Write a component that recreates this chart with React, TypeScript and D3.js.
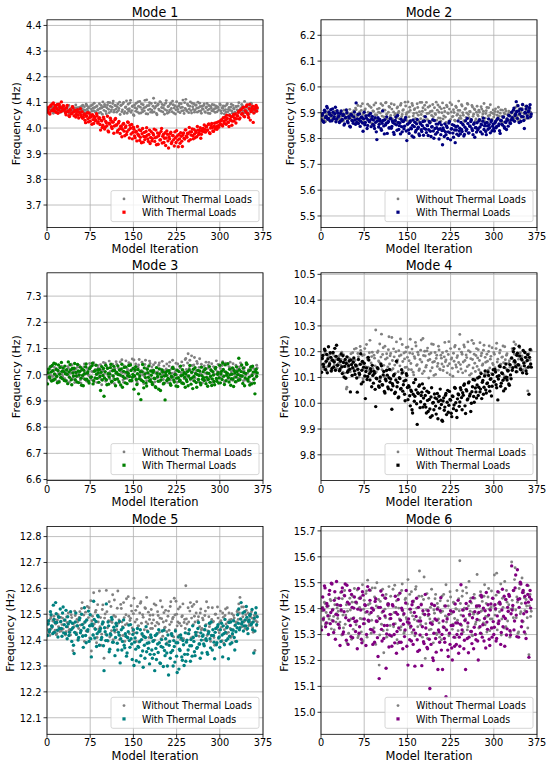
import React from "react";
import * as d3 from "d3";

// ---------- data ----------
const iterations = d3.range(1, 366);

const xTicks = [0, 75, 150, 225, 300, 375];

const mode1Without = [
  4.068,4.079,4.075,4.064,4.062,4.072,4.081,4.069,4.071,4.083,4.058,4.074,4.077,4.066,4.085,4.070,4.066,4.078,4.073,4.060,4.079,4.087,4.061,4.073,4.070,4.065,4.083,4.076,4.067,4.080,
  4.072,4.059,4.064,4.077,4.080,4.068,4.069,4.088,4.058,4.074,4.076,4.063,4.071,4.082,4.084,4.067,4.063,4.075,4.070,4.090,4.078,4.061,4.066,4.079,4.073,4.068,4.081,4.056,4.069,4.085,
  4.075,4.089,4.062,4.071,4.083,4.060,4.070,4.093,4.088,4.074,4.066,4.082,4.079,4.055,4.057,4.087,4.074,4.066,4.091,4.078,4.068,4.097,4.080,4.062,4.064,4.084,4.086,4.071,4.072,4.059,
  4.095,4.076,4.061,4.088,4.078,4.054,4.102,4.083,4.069,4.092,4.084,4.065,4.056,4.079,4.090,4.100,4.073,4.060,4.099,4.085,4.065,4.071,4.081,4.096,4.105,4.062,4.070,4.089,4.087,4.074,
  4.062,4.083,4.094,4.068,4.076,4.101,4.053,4.088,4.089,4.064,4.071,4.095,4.100,4.057,4.064,4.080,4.082,4.106,4.058,4.073,4.093,4.066,4.075,4.098,4.108,4.061,4.068,4.084,4.086,4.052,
  4.049,4.090,4.079,4.066,4.097,4.075,4.063,4.102,4.085,4.058,4.104,4.081,4.059,4.094,4.072,4.063,4.091,4.078,4.067,4.108,4.081,4.056,4.110,4.087,4.055,4.071,4.088,4.099,4.074,4.062,
  4.096,4.070,4.061,4.085,4.116,4.063,4.077,4.098,4.084,4.057,4.052,4.089,4.093,4.074,4.069,4.103,4.101,4.066,4.080,4.092,4.063,4.078,4.089,4.054,4.072,4.097,4.107,4.068,4.058,4.083,
  4.085,4.062,4.070,4.093,4.098,4.076,4.064,4.105,4.091,4.059,4.078,4.087,4.055,4.071,4.103,4.082,4.073,4.064,4.087,4.096,4.060,4.079,4.095,4.067,4.081,4.109,4.068,4.057,4.099,4.076,
  4.112,4.071,4.066,4.093,4.088,4.060,4.074,4.085,4.102,4.068,4.059,4.097,4.083,4.073,4.095,4.062,4.070,4.089,4.090,4.077,4.062,4.101,4.079,4.066,4.097,4.084,4.067,4.058,4.085,4.075,
  4.073,4.088,4.094,4.064,4.061,4.079,4.082,4.096,4.070,4.058,4.088,4.074,4.057,4.085,4.079,4.067,4.092,4.072,4.066,4.090,4.075,4.061,4.086,4.078,4.063,4.083,4.080,4.069,4.071,4.094,
  4.090,4.067,4.058,4.079,4.077,4.086,4.068,4.055,4.085,4.072,4.062,4.091,4.095,4.064,4.073,4.080,4.053,4.069,4.081,4.093,4.067,4.058,4.088,4.076,4.075,4.062,4.060,4.084,4.083,4.071,
  4.070,4.086,4.099,4.061,4.064,4.075,4.078,4.092,4.087,4.067,4.058,4.081,4.104,4.073,4.072,4.059,4.066,4.088,4.091,4.078,4.055,4.070,4.080,4.097,4.095,4.064,4.069,4.083,4.077,4.060,
  4.062,4.078,4.085,4.069,4.074,
];
const mode1With = [
  4.062,4.072,4.081,4.059,4.055,4.085,4.090,4.067,4.071,4.095,4.098,4.076,4.066,4.088,4.084,4.061,4.075,4.092,4.058,4.070,4.093,4.083,4.079,4.064,4.102,4.078,4.068,4.087,4.086,4.071,
  4.074,4.061,4.052,4.079,4.088,4.066,4.063,4.048,4.045,4.072,4.069,4.056,4.057,4.083,4.080,4.062,4.048,4.070,4.066,4.043,4.054,4.065,4.072,4.050,4.039,4.062,4.060,4.075,4.051,4.044,
  4.064,4.038,4.042,4.053,4.055,4.030,4.021,4.046,4.048,4.060,4.036,4.024,4.059,4.041,4.027,4.050,4.044,4.015,4.052,4.033,4.018,4.045,4.039,4.028,4.031,4.056,4.047,4.020,4.025,4.037,
  4.040,4.014,3.992,4.031,4.028,4.002,4.011,4.042,4.035,3.996,4.003,4.026,4.021,4.009,4.046,3.989,3.985,4.019,4.016,4.038,4.030,4.005,3.998,4.023,4.024,3.980,4.008,4.033,4.037,4.012,
  4.012,3.984,3.991,4.020,4.026,3.997,3.979,4.007,4.004,3.966,3.995,4.015,4.018,3.988,3.970,4.002,4.008,3.975,3.986,4.024,4.022,3.993,3.961,4.011,3.999,3.977,4.014,3.958,3.983,4.003,
  3.995,3.969,3.962,3.984,3.987,3.950,4.006,3.976,3.971,3.993,3.952,3.964,3.990,3.943,3.978,3.998,3.945,3.967,3.983,3.955,3.966,3.987,4.001,3.972,3.958,3.948,3.975,3.992,3.940,3.963,
  3.986,3.950,3.959,3.979,3.973,3.996,3.948,3.962,3.992,3.935,3.965,3.981,3.937,3.970,3.979,3.953,3.955,3.987,3.998,3.942,3.968,3.975,3.944,3.960,3.982,3.932,3.961,3.989,3.976,3.950,
  3.922,3.966,3.958,3.979,3.984,3.940,3.947,3.971,3.970,3.955,3.930,3.985,3.962,3.944,3.990,3.969,3.953,3.927,3.975,3.958,3.941,3.982,3.968,3.949,3.928,3.973,3.981,3.960,3.957,3.993,
  3.993,3.969,3.964,3.980,3.978,3.950,4.002,3.985,3.955,3.973,3.986,3.997,3.970,3.958,3.995,3.977,3.962,3.989,3.983,3.966,4.006,3.992,3.974,3.982,3.991,4.001,3.960,3.976,3.988,3.996,
  3.998,3.986,4.012,3.995,3.984,4.006,4.005,3.991,3.993,4.014,4.016,3.982,3.979,4.000,4.009,4.018,4.001,3.989,3.987,4.007,4.019,3.996,4.004,4.021,3.995,4.008,4.024,4.003,4.010,4.027,
  4.017,4.029,4.033,4.012,4.008,4.040,4.026,4.019,4.042,4.031,4.015,4.050,4.037,4.024,4.022,4.006,4.049,4.035,4.030,4.044,4.011,4.027,4.045,4.053,4.028,4.038,4.055,4.020,4.036,4.047,
  4.048,4.061,4.066,4.035,4.039,4.070,4.072,4.054,4.057,4.079,4.081,4.046,4.044,4.068,4.063,4.084,4.090,4.058,4.052,4.041,4.075,4.092,4.031,4.064,4.068,4.077,4.085,4.022,4.059,4.073,
  4.074,4.083,4.088,4.066,4.079,
];

const mode2Without = [
  5.882,5.895,5.891,5.877,5.873,5.887,5.900,5.866,5.886,5.893,5.878,5.904,5.894,5.872,5.869,5.883,5.889,5.898,5.897,5.879,5.875,5.890,5.884,5.906,5.902,5.868,5.871,5.885,5.888,5.896,
  5.893,5.874,5.876,5.901,5.885,5.867,5.899,5.889,5.868,5.910,5.890,5.878,5.880,5.896,5.905,5.870,5.874,5.892,5.887,5.913,5.896,5.881,5.870,5.899,5.883,5.865,5.908,5.891,5.879,5.918,
  5.912,5.874,5.886,5.928,5.868,5.897,5.903,5.880,5.925,5.909,5.877,5.935,5.894,5.866,5.862,5.911,5.915,5.887,5.889,5.873,5.933,5.902,5.871,5.926,5.898,5.883,5.920,5.858,5.882,5.907,
  5.906,5.930,5.858,5.892,5.938,5.875,5.891,5.914,5.874,5.902,5.917,5.865,5.899,5.935,5.866,5.887,5.928,5.911,5.884,5.872,5.910,5.938,5.940,5.894,5.877,5.862,5.902,5.924,5.921,5.883,
  5.889,5.935,5.914,5.876,5.870,5.903,5.931,5.890,5.896,5.864,5.880,5.918,5.922,5.898,5.905,5.877,5.861,5.929,5.936,5.885,5.893,5.909,5.912,5.870,5.875,5.941,5.926,5.893,5.900,5.868,
  5.942,5.903,5.884,5.921,5.909,5.866,5.870,5.936,5.928,5.887,5.897,5.912,5.916,5.878,5.863,5.899,5.935,5.920,5.890,5.868,5.904,5.940,5.877,5.893,5.940,5.906,5.919,5.872,5.886,5.929,
  5.912,5.882,5.940,5.897,5.873,5.921,5.898,5.862,5.926,5.905,5.865,5.889,5.907,5.932,5.884,5.870,5.919,5.896,5.893,5.941,5.871,5.910,5.930,5.880,5.902,5.922,5.879,5.867,5.915,5.900,
  5.938,5.876,5.888,5.918,5.905,5.883,5.862,5.929,5.923,5.899,5.897,5.868,5.914,5.939,5.874,5.903,5.931,5.884,5.886,5.912,5.901,5.871,5.868,5.925,5.920,5.890,5.894,5.909,5.945,5.878,
  5.909,5.888,5.878,5.931,5.926,5.900,5.890,5.869,5.866,5.913,5.917,5.882,5.899,5.936,5.933,5.893,5.881,5.905,5.904,5.874,5.871,5.928,5.922,5.886,5.894,5.915,5.912,5.868,5.876,5.902,
  5.925,5.891,5.887,5.910,5.903,5.872,5.869,5.923,5.914,5.884,5.895,5.906,5.936,5.866,5.879,5.897,5.908,5.920,5.862,5.888,5.919,5.875,5.890,5.931,5.901,5.869,5.874,5.898,5.911,5.883,
  5.893,5.905,5.915,5.868,5.872,5.890,5.904,5.921,5.886,5.874,5.898,5.911,5.866,5.887,5.910,5.863,5.881,5.899,5.895,5.914,5.907,5.872,5.876,5.893,5.889,5.906,5.902,5.868,5.870,5.885,
  5.898,5.876,5.884,5.909,5.912,5.893,5.879,5.921,5.906,5.887,5.929,5.870,5.891,5.914,5.873,5.900,5.903,5.882,5.917,5.930,5.885,5.897,5.896,5.874,5.925,5.911,5.880,5.893,5.908,5.920,
  5.893,5.879,5.915,5.902,5.889,
];
const mode2With = [
  5.872,5.890,5.897,5.866,5.863,5.910,5.905,5.881,5.886,5.924,5.918,5.875,5.878,5.902,5.894,5.868,5.912,5.889,5.869,5.915,5.902,5.877,5.884,5.896,5.921,5.865,5.876,5.908,5.899,5.883,
  5.888,5.862,5.866,5.897,5.907,5.871,5.874,5.889,5.893,5.852,5.857,5.880,5.882,5.911,5.900,5.866,5.861,5.885,5.879,5.848,5.845,5.893,5.890,5.870,5.868,5.859,5.884,5.903,5.872,5.855,
  5.938,5.862,5.876,5.893,5.858,5.874,5.895,5.847,5.867,5.882,5.884,5.860,5.828,5.877,5.902,5.853,5.862,5.888,5.879,5.839,5.851,5.872,5.890,5.865,5.870,5.897,5.846,5.876,5.886,5.855,
  5.872,5.850,5.839,5.881,5.863,5.826,5.796,5.868,5.881,5.845,5.855,5.874,5.868,5.838,5.832,5.859,5.907,5.870,5.849,5.818,5.873,5.852,5.858,5.884,5.820,5.862,5.866,5.841,5.842,5.876,
  5.878,5.840,5.847,5.868,5.862,5.824,5.816,5.857,5.870,5.883,5.853,5.832,5.889,5.862,5.835,5.850,5.860,5.818,5.875,5.846,5.826,5.867,5.866,5.838,5.848,5.873,5.882,5.829,5.792,5.855,
  5.857,5.833,5.820,5.862,5.868,5.841,5.838,5.810,5.851,5.872,5.805,5.846,5.863,5.825,5.831,5.857,5.874,5.839,5.844,5.818,5.812,5.861,5.856,5.834,5.827,5.850,5.866,5.813,5.840,5.868,
  5.885,5.836,5.823,5.852,5.850,5.812,5.834,5.866,5.861,5.828,5.808,5.845,5.846,5.873,5.829,5.801,5.870,5.839,5.817,5.856,5.842,5.824,5.856,5.835,5.798,5.862,5.838,5.815,5.853,5.831,
  5.776,5.841,5.832,5.808,5.857,5.826,5.815,5.849,5.843,5.800,5.826,5.860,5.866,5.822,5.795,5.837,5.838,5.854,5.821,5.805,5.851,5.833,5.784,5.846,5.833,5.817,5.848,5.868,5.812,5.829,
  5.840,5.818,5.862,5.835,5.827,5.856,5.852,5.810,5.816,5.844,5.869,5.830,5.836,5.878,5.858,5.821,5.822,5.849,5.847,5.866,5.873,5.838,5.831,5.815,5.855,5.860,5.805,5.842,5.843,5.825,
  5.861,5.833,5.838,5.868,5.873,5.845,5.826,5.856,5.853,5.818,5.867,5.879,5.835,5.849,5.858,5.827,5.815,5.862,5.849,5.836,5.876,5.854,5.842,5.822,5.864,5.870,5.830,5.848,5.856,5.839,
  5.829,5.860,5.866,5.842,5.847,5.875,5.878,5.850,5.857,5.830,5.820,5.869,5.870,5.855,5.852,5.883,5.884,5.846,5.840,5.864,5.862,5.835,5.876,5.871,5.848,5.890,5.888,5.861,5.858,5.873,
  5.902,5.881,5.873,5.910,5.918,5.867,5.889,5.896,5.943,5.905,5.878,5.927,5.907,5.862,5.895,5.915,5.866,5.886,5.912,5.932,5.884,5.870,5.839,5.901,5.899,5.915,5.925,5.888,5.880,5.904,
  5.908,5.919,5.931,5.885,5.895,
];

const mode3Without = [
  7.005,7.018,6.988,7.001,7.021,6.980,6.996,7.030,7.012,6.993,6.982,7.015,7.028,6.998,7.001,7.024,6.991,6.974,7.016,7.007,6.976,7.026,7.009,6.987,7.033,7.003,6.994,7.020,7.019,6.984,
  6.985,7.010,7.013,6.977,6.999,7.031,7.025,6.995,6.972,7.006,7.008,7.040,7.036,6.983,6.990,7.014,7.017,6.970,6.979,7.023,7.004,6.992,7.029,7.008,6.993,7.035,7.011,6.980,6.968,7.017,
  7.022,6.994,6.987,7.030,7.041,7.009,7.003,6.978,6.975,7.025,7.018,6.999,6.995,7.043,7.032,6.985,6.981,7.013,7.010,7.038,7.046,6.972,6.989,7.020,7.014,7.001,6.970,7.035,7.027,6.988,
  7.001,7.022,7.038,6.982,6.962,7.017,7.015,7.047,6.992,7.005,7.044,6.975,6.978,7.030,7.023,6.996,7.007,7.052,6.984,7.013,7.035,6.969,6.997,7.040,7.020,6.986,6.966,7.024,7.012,7.050,
  7.040,7.001,6.983,7.027,7.019,6.968,7.049,7.012,6.995,7.057,7.008,6.980,6.971,7.034,7.031,7.006,7.053,6.989,6.986,7.020,7.014,7.046,6.998,6.975,7.042,7.018,6.975,7.060,7.025,6.993,
  7.056,7.012,6.990,7.041,7.021,6.974,6.967,7.029,7.037,7.058,7.004,6.985,6.981,7.016,7.048,7.000,7.011,6.966,6.994,7.039,7.055,7.007,6.977,7.024,7.028,6.991,7.002,7.052,7.043,6.979,
  6.985,7.030,7.018,6.964,7.038,7.009,6.972,7.046,7.009,6.987,7.027,7.011,6.990,7.036,7.045,6.973,6.979,7.021,7.012,7.051,7.000,6.982,7.033,7.015,6.968,7.004,7.022,7.041,6.996,6.970,
  7.015,7.033,7.048,6.979,6.987,7.022,7.006,7.055,7.030,6.992,6.975,7.009,7.019,7.044,6.999,6.971,7.041,7.014,6.982,7.032,7.026,6.997,7.008,7.049,6.971,7.018,7.035,6.985,7.011,7.058,
  7.062,7.020,6.995,7.045,7.080,6.990,7.024,7.055,6.980,7.012,7.072,7.035,7.010,6.977,7.037,7.066,6.988,7.008,7.016,7.051,7.043,6.983,6.974,7.028,7.061,7.004,7.003,7.040,7.029,6.969,
  6.992,7.017,7.034,6.980,7.007,7.048,6.978,7.003,7.025,7.036,7.047,6.989,6.986,7.021,7.014,7.042,6.970,7.009,7.031,6.975,7.002,7.027,7.019,7.053,6.983,7.012,7.039,6.996,7.009,7.030,
  7.024,6.999,6.989,7.035,7.050,7.016,7.012,6.972,6.976,7.044,7.037,7.006,7.004,6.985,6.995,7.031,7.028,7.048,6.981,7.010,7.016,6.979,7.042,7.023,6.990,7.001,7.007,7.036,6.972,7.013,
  7.021,6.987,7.003,7.030,6.986,7.045,7.034,6.992,7.011,7.024,6.977,7.015,7.027,6.980,6.998,7.038,7.040,7.006,6.983,7.019,7.015,6.971,6.993,7.032,7.030,7.002,6.969,7.025,7.010,6.985,
  7.019,7.004,6.990,7.036,7.026,
];
const mode3With = [
  6.965,7.008,7.022,6.992,6.988,7.031,7.010,6.976,7.035,7.015,6.979,7.044,7.003,6.984,7.041,7.020,6.994,6.969,7.016,7.037,6.972,7.002,7.028,6.990,7.047,7.013,6.985,7.026,7.012,6.978,
  7.033,7.004,6.976,7.019,7.002,6.966,7.049,7.011,6.990,7.038,7.018,6.981,6.962,7.024,7.007,6.995,7.025,7.043,6.981,7.009,6.995,6.972,7.039,7.014,6.970,6.999,7.013,7.029,6.987,6.960,
  7.021,6.998,6.958,7.017,7.004,6.983,7.030,7.041,6.983,7.006,7.011,6.975,6.968,7.023,7.027,6.990,6.992,7.034,7.044,6.965,6.977,7.013,7.015,6.987,7.036,7.002,6.986,7.019,7.008,6.971,
  7.019,6.993,6.940,7.009,7.031,6.980,6.997,7.024,6.918,6.987,7.012,7.036,6.981,6.962,7.025,7.004,6.964,6.991,7.003,7.027,7.040,6.973,6.975,7.015,6.995,7.032,7.017,6.982,6.958,7.006,
  7.009,6.984,7.034,7.001,6.973,7.018,6.999,6.961,7.022,7.040,6.952,6.993,7.013,7.028,6.987,6.969,7.029,7.010,6.966,6.997,7.006,7.035,6.993,6.978,7.037,7.016,6.978,6.990,7.001,7.024,
  6.945,6.996,7.018,7.031,6.982,6.963,7.004,7.020,6.927,6.985,6.995,7.012,6.905,6.979,7.011,7.039,6.974,6.950,7.026,7.003,6.989,6.968,6.957,7.021,7.008,6.990,7.034,6.976,6.980,7.014,
  6.998,6.971,6.963,7.009,7.016,6.987,6.985,6.954,6.951,7.027,7.005,6.993,6.975,6.945,7.022,7.003,6.940,6.980,6.992,7.018,7.010,6.965,6.968,6.995,6.904,7.009,6.997,6.978,7.014,6.986,
  6.983,7.015,7.006,6.966,6.960,6.994,6.991,7.028,7.024,6.980,6.972,7.001,7.001,6.957,6.987,7.017,6.955,6.989,7.012,6.975,6.979,7.033,6.996,6.968,7.019,6.999,6.966,7.008,6.990,6.952,
  7.003,6.981,6.974,7.012,6.958,6.995,7.018,7.035,6.985,6.964,7.009,6.988,6.947,7.021,6.993,6.976,7.027,7.004,6.970,6.952,7.001,7.016,6.982,6.997,7.014,6.969,6.962,7.029,6.996,6.983,
  7.011,6.989,6.978,7.020,7.023,6.966,6.990,7.007,6.956,6.982,7.005,7.031,6.971,6.994,7.017,6.959,6.984,7.012,6.999,6.974,6.962,7.024,7.028,6.986,6.975,7.002,7.008,6.968,6.988,7.036,
  6.969,7.004,7.013,6.982,7.045,7.020,6.994,6.963,7.038,7.011,6.977,6.998,7.006,7.042,6.989,6.972,7.021,7.000,6.960,6.985,7.002,7.026,6.984,6.955,7.016,7.007,6.973,6.991,7.030,7.012,
  7.000,6.979,7.063,7.019,6.981,6.996,7.012,7.037,6.995,6.967,7.026,7.008,6.958,6.988,7.005,7.045,7.040,6.983,6.976,7.014,6.991,6.961,7.018,7.029,6.965,6.997,7.033,7.010,6.983,6.968,
  6.927,7.012,7.021,6.994,7.007,
];

const mode4Without = [
  10.150,10.171,10.178,10.139,10.132,10.188,10.195,10.157,10.163,10.124,10.141,10.176,10.184,10.149,10.158,10.192,10.126,10.166,10.172,10.138,10.190,10.160,10.147,10.182,10.168,10.129,10.135,10.174,10.181,10.152,
  10.155,10.184,10.128,10.149,10.170,10.198,10.143,10.120,10.188,10.163,10.117,10.145,10.161,10.055,10.062,10.179,10.139,10.158,10.175,10.131,10.122,10.192,10.150,10.107,10.196,10.168,10.133,10.210,10.166,10.142,
  10.213,10.128,10.145,10.193,10.180,10.102,10.118,10.220,10.205,10.151,10.162,10.185,10.095,10.134,10.188,10.212,10.142,10.105,10.228,10.176,10.170,10.140,10.127,10.196,10.244,10.118,10.156,10.181,10.198,10.135,
  10.110,10.186,10.175,10.145,10.284,10.121,10.138,10.197,10.203,10.164,10.160,10.230,10.095,10.179,10.268,10.130,10.189,10.215,10.147,10.102,10.221,10.171,10.125,10.192,10.176,10.141,10.208,10.258,10.152,10.184,
  10.193,10.128,10.255,10.166,10.134,10.211,10.180,10.148,10.116,10.200,10.238,10.157,10.168,10.122,10.204,10.183,10.145,10.249,10.187,10.113,10.228,10.162,10.122,10.195,10.172,10.139,10.199,10.216,10.140,10.178,
  10.218,10.131,10.165,10.195,10.248,10.154,10.130,10.210,10.192,10.120,10.110,10.181,10.174,10.236,10.222,10.146,10.150,10.198,10.188,10.127,10.133,10.170,10.206,10.245,10.160,10.115,10.251,10.185,10.124,10.202,
  10.183,10.140,10.147,10.203,10.214,10.166,10.098,10.190,10.170,10.125,10.195,10.230,10.138,10.159,10.228,10.108,10.162,10.197,10.112,10.174,10.186,10.143,10.154,10.221,10.207,10.133,10.130,10.186,10.175,10.152,
  10.196,10.127,10.142,10.180,10.236,10.161,10.168,10.202,10.118,10.145,10.189,10.239,10.153,10.111,10.212,10.171,10.176,10.136,10.105,10.194,10.163,10.218,10.224,10.149,10.140,10.177,10.184,10.122,10.158,10.210,
  10.267,10.150,10.133,10.198,10.190,10.118,10.160,10.226,10.218,10.166,10.125,10.187,10.177,10.142,10.238,10.204,10.148,10.109,10.199,10.173,10.115,10.244,10.170,10.137,10.232,10.190,10.155,10.123,10.185,10.212,
  10.143,10.176,10.208,10.130,10.166,10.235,10.120,10.184,10.194,10.147,10.152,10.206,10.225,10.113,10.178,10.159,10.110,10.190,10.163,10.128,10.201,10.222,10.137,10.171,10.182,10.116,10.215,10.154,10.149,10.196,
  10.190,10.138,10.125,10.212,10.233,10.160,10.171,10.128,10.144,10.195,10.206,10.151,10.118,10.178,10.180,10.222,10.157,10.108,10.219,10.169,10.135,10.186,10.192,10.123,10.100,10.155,10.165,10.140,10.147,10.175,
  10.178,10.212,10.205,10.160,10.238,10.190,10.150,10.228,10.190,10.138,10.122,10.183,10.171,10.149,10.215,10.196,10.142,10.174,10.183,10.127,10.130,10.202,10.199,10.157,10.160,10.136,10.176,10.190,10.048,10.168,
  10.192,10.145,10.168,10.210,10.205,
];
const mode4With = [
  10.120,10.174,10.185,10.151,10.142,10.210,10.205,10.131,10.163,10.189,10.118,10.172,10.219,10.145,10.152,10.196,10.178,10.125,10.135,10.167,10.197,10.140,10.160,10.213,10.128,10.182,10.225,10.148,10.147,10.170,
  10.172,10.126,10.133,10.163,10.191,10.141,10.115,10.184,10.158,10.102,10.143,10.170,10.097,10.154,10.180,10.120,10.126,10.146,10.165,10.132,10.044,10.168,10.150,10.108,10.138,10.159,10.176,10.125,10.112,10.149,
  10.145,10.098,10.043,10.132,10.170,10.117,10.112,10.151,10.192,10.075,10.128,10.162,10.083,10.140,10.155,10.106,10.018,10.123,10.137,10.092,10.104,10.178,10.168,10.115,10.090,10.134,10.124,10.064,10.147,10.108,
  10.078,10.124,10.116,10.054,9.987,10.097,10.095,10.138,10.134,10.067,10.062,10.085,10.102,10.152,10.145,10.072,10.071,10.110,10.123,10.046,10.040,10.093,10.087,10.128,10.109,10.063,10.056,10.099,10.131,10.081,
  10.094,10.052,9.977,10.076,10.068,10.107,10.112,10.038,10.043,10.090,10.163,10.064,10.081,10.021,10.024,10.099,10.096,10.055,10.057,10.130,10.118,10.047,10.072,10.086,10.035,10.010,10.089,10.115,10.108,10.061,
  10.014,10.068,10.063,10.029,9.990,10.051,10.046,9.975,9.962,10.035,10.080,10.008,10.027,10.092,10.052,9.998,9.918,10.041,10.038,10.066,10.071,9.983,10.006,10.030,10.043,10.075,9.985,10.020,10.058,9.995,
  10.030,9.985,9.962,10.047,10.011,9.968,10.042,10.015,9.978,9.946,10.024,10.060,9.952,10.001,10.003,9.975,10.036,10.021,9.989,9.958,10.017,10.038,9.940,10.007,10.027,9.981,10.055,10.012,9.995,9.934,
  9.930,10.009,10.021,9.973,9.985,10.031,10.038,9.956,10.004,10.050,9.965,9.992,10.046,10.015,10.012,9.961,9.948,10.028,10.026,9.979,9.993,10.061,10.058,10.002,9.972,9.945,10.017,10.036,10.033,9.988,
  10.005,10.060,10.052,10.022,9.975,10.041,10.031,10.070,10.075,9.990,9.960,10.053,10.048,10.013,10.017,10.079,10.083,10.028,10.036,9.968,10.000,10.045,10.064,10.092,10.026,10.004,10.090,10.059,10.044,10.020,
  10.071,10.098,10.030,10.062,10.102,10.044,10.055,10.115,10.018,10.081,10.088,10.035,10.062,10.106,10.125,10.052,10.040,10.076,10.079,10.121,10.108,10.065,10.047,10.093,10.095,10.028,10.066,10.112,10.130,10.083,
  10.085,10.131,10.121,10.072,10.060,10.104,10.013,10.094,10.107,10.145,10.142,10.066,10.078,10.118,10.115,10.089,10.048,10.139,10.098,10.056,10.152,10.101,10.090,10.128,10.126,10.075,10.070,10.150,10.110,10.095,
  10.175,10.128,10.138,10.200,10.212,10.165,10.160,10.142,10.122,10.186,10.194,10.150,10.148,10.221,10.183,10.133,10.130,10.172,10.168,10.118,10.205,10.156,10.145,10.197,10.178,10.125,10.115,10.166,10.188,10.140,
  10.035,10.178,10.208,10.152,10.140,
];

const mode5Without = [
  12.440,12.465,12.472,12.428,12.418,12.483,12.490,12.446,12.455,12.474,12.430,12.492,12.480,12.438,12.462,12.421,12.425,12.478,12.498,12.452,12.447,12.433,12.470,12.488,12.435,12.460,12.485,12.443,12.458,12.476,
  12.476,12.420,12.432,12.489,12.468,12.451,12.505,12.436,12.441,12.472,12.420,12.498,12.487,12.445,12.359,12.463,12.452,12.512,12.495,12.427,12.428,12.480,12.470,12.405,12.445,12.488,12.510,12.458,12.438,12.522,
  12.545,12.418,12.462,12.497,12.395,12.470,12.508,12.435,12.477,12.530,12.433,12.487,12.525,12.408,12.458,12.552,12.358,12.475,12.492,12.420,12.583,12.462,12.446,12.508,12.515,12.390,12.410,12.537,12.470,12.443,
  12.590,12.452,12.487,12.380,12.423,12.518,12.536,12.468,12.330,12.485,12.501,12.422,12.592,12.510,12.448,12.396,12.475,12.548,12.412,12.473,12.530,12.436,12.468,12.575,12.402,12.495,12.555,12.430,12.490,12.460,
  12.440,12.523,12.590,12.465,12.478,12.402,12.418,12.538,12.522,12.470,12.452,12.418,12.545,12.487,12.395,12.459,12.498,12.560,12.463,12.408,12.568,12.492,12.425,12.476,12.484,12.533,12.512,12.447,12.435,12.502,
  12.562,12.428,12.470,12.515,12.395,12.480,12.530,12.455,12.455,12.392,12.505,12.542,12.548,12.465,12.420,12.498,12.488,12.412,12.440,12.525,12.522,12.470,12.565,12.436,12.462,12.508,12.410,12.480,12.496,12.445,
  12.518,12.465,12.445,12.497,12.478,12.540,12.400,12.455,12.535,12.420,12.468,12.510,12.495,12.462,12.430,12.485,12.552,12.405,12.483,12.528,12.415,12.470,12.506,12.447,12.450,12.515,12.475,12.432,12.390,12.492,
  12.512,12.438,12.460,12.530,12.548,12.470,12.425,12.482,12.488,12.412,12.562,12.497,12.440,12.550,12.500,12.455,12.470,12.520,12.418,12.465,12.528,12.402,12.455,12.490,12.494,12.540,12.405,12.468,12.480,12.445,
  12.610,12.482,12.462,12.425,12.525,12.470,12.438,12.512,12.545,12.408,12.485,12.530,12.412,12.460,12.538,12.492,12.470,12.422,12.505,12.548,12.430,12.475,12.490,12.415,12.452,12.505,12.520,12.440,12.445,12.485,
  12.478,12.440,12.400,12.495,12.512,12.460,12.548,12.418,12.435,12.526,12.490,12.452,12.462,12.395,12.418,12.480,12.525,12.470,12.472,12.410,12.380,12.500,12.500,12.445,12.445,12.528,12.485,12.438,12.428,12.468,
  12.512,12.475,12.450,12.398,12.505,12.488,12.388,12.440,12.495,12.520,12.462,12.425,12.525,12.470,12.430,12.505,12.478,12.445,12.410,12.480,12.502,12.418,12.440,12.495,12.485,12.455,12.395,12.468,12.470,12.510,
  12.515,12.480,12.540,12.505,12.565,12.462,12.480,12.528,12.452,12.490,12.528,12.470,12.475,12.445,12.498,12.515,12.440,12.478,12.505,12.455,12.462,12.500,12.490,12.468,12.510,12.485,12.448,12.430,12.482,12.495,
  12.360,12.475,12.495,12.455,12.470,
];
const mode5With = [
  12.418,12.462,12.475,12.432,12.440,12.510,12.498,12.455,12.452,12.425,12.535,12.480,12.430,12.468,12.545,12.502,12.468,12.438,12.412,12.490,12.488,12.445,12.520,12.472,12.445,12.415,12.505,12.528,12.428,12.460,
  12.478,12.425,12.515,12.452,12.405,12.490,12.462,12.418,12.430,12.472,12.510,12.440,12.395,12.465,12.448,12.380,12.348,12.430,12.470,12.505,12.422,12.455,12.455,12.400,12.410,12.478,12.485,12.428,12.436,12.500,
  12.460,12.415,12.372,12.448,12.525,12.470,12.418,12.390,12.478,12.435,12.440,12.512,12.395,12.455,12.498,12.405,12.335,12.462,12.455,12.420,12.550,12.480,12.408,12.442,12.472,12.375,12.425,12.495,12.490,12.432,
  12.380,12.435,12.445,12.402,12.410,12.462,12.470,12.378,12.282,12.448,12.432,12.398,12.540,12.420,12.398,12.470,12.455,12.355,12.365,12.425,12.420,12.488,12.480,12.392,12.392,12.450,12.438,12.340,12.410,12.465,
  12.455,12.388,12.362,12.430,12.420,12.472,12.312,12.405,12.440,12.362,12.395,12.448,12.478,12.380,12.370,12.425,12.415,12.338,12.350,12.410,12.432,12.458,12.398,12.372,12.460,12.405,12.385,12.325,12.422,12.440,
  12.302,12.392,12.408,12.365,12.320,12.428,12.445,12.375,12.372,12.315,12.395,12.440,12.340,12.402,12.425,12.358,12.295,12.415,12.380,12.330,12.410,12.452,12.355,12.388,12.432,12.368,12.390,12.308,12.345,12.420,
  12.410,12.362,12.330,12.395,12.398,12.345,12.282,12.418,12.368,12.325,12.425,12.385,12.352,12.440,12.390,12.312,12.310,12.375,12.402,12.435,12.372,12.298,12.438,12.360,12.340,12.405,12.385,12.350,12.300,12.420,
  12.265,12.380,12.395,12.330,12.352,12.425,12.418,12.360,12.300,12.398,12.375,12.315,12.435,12.390,12.338,12.275,12.390,12.412,12.288,12.365,12.360,12.420,12.408,12.335,12.322,12.398,12.382,12.302,12.345,12.428,
  12.318,12.392,12.400,12.345,12.362,12.425,12.440,12.378,12.318,12.402,12.378,12.338,12.455,12.410,12.395,12.355,12.340,12.430,12.418,12.368,12.372,12.445,12.468,12.385,12.385,12.330,12.428,12.400,12.350,12.415,
  12.420,12.385,12.378,12.440,12.455,12.405,12.398,12.352,12.345,12.425,12.432,12.465,12.405,12.370,12.470,12.418,12.362,12.440,12.418,12.392,12.328,12.430,12.445,12.382,12.390,12.452,12.460,12.408,12.412,12.372,
  12.440,12.395,12.465,12.420,12.335,12.455,12.425,12.382,12.480,12.430,12.398,12.448,12.452,12.405,12.328,12.468,12.415,12.385,12.470,12.440,12.390,12.425,12.438,12.475,12.410,12.362,12.458,12.432,12.395,12.448,
  12.498,12.465,12.520,12.440,12.448,12.482,12.545,12.462,12.470,12.505,12.435,12.455,12.510,12.478,12.455,12.530,12.488,12.445,12.425,12.472,12.478,12.495,12.500,12.458,12.462,12.518,12.440,12.470,12.350,12.485,
  12.435,12.505,12.525,12.460,12.490,
];

const mode6Without = [
  15.330,15.392,15.405,15.355,15.365,15.425,15.420,15.340,15.385,15.408,15.345,15.375,15.410,15.360,15.372,15.435,15.430,15.322,15.355,15.395,15.398,15.370,15.318,15.415,15.440,15.348,15.380,15.402,15.362,15.390,
  15.412,15.335,15.348,15.462,15.390,15.298,15.438,15.375,15.325,15.452,15.470,15.340,15.375,15.415,15.268,15.390,15.418,15.305,15.352,15.440,15.395,15.360,15.282,15.425,15.448,15.320,15.365,15.478,15.425,15.350,
  15.338,15.420,15.472,15.288,15.295,15.440,15.405,15.362,15.445,15.310,15.360,15.492,15.275,15.398,15.432,15.342,15.385,15.458,15.468,15.290,15.510,15.415,15.350,15.378,15.420,15.470,15.305,15.355,15.480,15.402,
  15.395,15.325,15.445,15.480,15.262,15.410,15.500,15.352,15.370,15.435,15.182,15.298,15.428,15.468,15.340,15.385,15.475,15.315,15.230,15.442,15.398,15.365,15.455,15.290,15.318,15.420,15.410,15.485,15.360,15.335,
  15.448,15.378,15.292,15.415,15.475,15.330,15.385,15.490,15.342,15.405,15.430,15.280,15.265,15.452,15.402,15.360,15.458,15.318,15.330,15.470,15.495,15.392,15.375,15.305,15.312,15.435,15.440,15.365,15.358,15.418,
  15.512,15.340,15.398,15.455,15.325,15.385,15.465,15.308,15.372,15.425,15.430,15.358,15.295,15.475,15.485,15.402,15.352,15.330,15.405,15.448,15.545,15.365,15.338,15.418,15.448,15.290,15.380,15.435,15.522,15.375,
  15.208,15.342,15.395,15.458,15.285,15.372,15.440,15.318,15.360,15.405,15.320,15.475,15.415,15.350,15.268,15.395,15.382,15.438,15.455,15.305,15.300,15.420,15.405,15.360,15.345,15.290,15.430,15.385,15.280,15.448,
  15.390,15.330,15.455,15.410,15.325,15.372,15.492,15.348,15.368,15.430,15.410,15.295,15.302,15.465,15.445,15.380,15.385,15.320,15.340,15.425,15.420,15.362,15.288,15.400,15.398,15.470,15.355,15.315,15.438,15.392,
  15.585,15.420,15.375,15.335,15.448,15.468,15.310,15.395,15.402,15.352,15.360,15.482,15.460,15.318,15.330,15.410,15.505,15.372,15.390,15.440,15.422,15.298,15.295,15.385,15.378,15.455,15.440,15.340,15.348,15.405,
  15.532,15.380,15.412,15.325,15.355,15.450,15.465,15.390,15.302,15.428,15.395,15.345,15.448,15.492,15.338,15.370,15.420,15.310,15.370,15.445,15.478,15.398,15.315,15.360,15.405,15.468,15.360,15.325,15.438,15.410,
  15.530,15.375,15.395,15.452,15.537,15.318,15.345,15.420,15.462,15.388,15.418,15.495,15.298,15.360,15.440,15.405,15.372,15.325,15.505,15.435,15.330,15.470,15.425,15.352,15.388,15.415,15.452,15.290,15.310,15.398,
  15.580,15.432,15.402,15.365,15.470,15.512,15.558,15.395,15.365,15.445,15.425,15.305,15.310,15.478,15.495,15.380,15.388,15.420,15.518,15.348,15.350,15.462,15.442,15.392,15.302,15.435,15.410,15.365,15.325,15.488,
  15.222,15.410,15.455,15.370,15.390,
];
const mode6With = [
  15.318,15.402,15.445,15.360,15.395,15.488,15.480,15.330,15.345,15.420,15.410,15.372,15.300,15.455,15.470,15.342,15.385,15.498,15.495,15.395,15.352,15.308,15.432,15.465,15.282,15.378,15.505,15.415,15.375,15.340,
  15.440,15.325,15.258,15.412,15.395,15.465,15.480,15.302,15.310,15.388,15.450,15.495,15.365,15.278,15.490,15.425,15.262,15.355,15.418,15.470,15.335,15.292,15.455,15.405,15.288,15.362,15.402,15.445,15.350,15.312,
  15.425,15.352,15.245,15.398,15.478,15.305,15.330,15.440,15.395,15.282,15.268,15.465,15.452,15.342,15.360,15.415,15.412,15.258,15.300,15.388,15.485,15.355,15.352,15.472,15.432,15.320,15.385,15.402,15.318,15.262,
  15.395,15.310,15.270,15.428,15.438,15.352,15.350,15.288,15.215,15.405,15.130,15.362,15.405,15.468,15.320,15.275,15.452,15.390,15.285,15.335,15.372,15.440,15.170,15.302,15.335,15.415,15.418,15.252,15.298,15.378,
  15.362,15.295,15.255,15.415,15.410,15.340,15.300,15.268,15.448,15.385,15.228,15.312,15.378,15.435,15.325,15.270,15.460,15.355,15.270,15.402,15.395,15.245,15.340,15.380,15.292,15.318,15.422,15.470,15.255,15.348,
  15.182,15.360,15.345,15.280,15.398,15.332,15.275,15.415,15.428,15.262,15.318,15.385,15.178,15.305,15.370,15.440,15.280,15.235,15.405,15.352,15.240,15.298,15.352,15.415,15.180,15.330,15.392,15.272,15.265,15.378,
  15.455,15.325,15.300,15.250,15.245,15.392,15.378,15.282,15.092,15.345,15.262,15.418,15.340,15.210,15.200,15.305,15.412,15.360,15.285,15.232,15.355,15.398,15.165,15.318,15.310,15.270,15.392,15.442,15.240,15.300,
  15.165,15.352,15.328,15.285,15.270,15.410,15.060,15.318,15.360,15.240,15.215,15.378,15.305,15.262,15.392,15.335,15.248,15.202,15.335,15.388,15.290,15.255,15.418,15.345,15.262,15.300,15.345,15.432,15.228,15.290,
  15.255,15.340,15.492,15.302,15.318,15.395,15.372,15.245,15.278,15.355,15.165,15.420,15.400,15.285,15.345,15.230,15.290,15.378,15.428,15.312,15.312,15.265,15.365,15.442,15.245,15.328,15.388,15.300,15.280,15.410,
  15.358,15.275,15.202,15.385,15.410,15.330,15.305,15.452,15.445,15.290,15.338,15.402,15.275,15.362,15.392,15.248,15.462,15.348,15.320,15.415,15.375,15.282,15.258,15.395,15.418,15.325,15.290,15.440,15.350,15.300,
  15.328,15.415,15.400,15.275,15.285,15.372,15.465,15.342,15.352,15.425,15.418,15.262,15.308,15.395,15.475,15.330,15.370,15.448,15.255,15.362,15.435,15.298,15.322,15.405,15.390,15.455,15.448,15.315,15.298,15.380,
  15.565,15.395,15.412,15.470,15.318,15.352,15.480,15.530,15.375,15.292,15.550,15.435,15.290,15.405,15.438,15.502,15.495,15.330,15.352,15.462,15.470,15.380,15.310,15.448,15.422,15.285,15.388,15.490,15.455,15.425,
  15.212,15.445,15.470,15.402,15.435,
];

const modeTitles = ["Mode 1", "Mode 2", "Mode 3", "Mode 4", "Mode 5", "Mode 6"];
const withoutSeries = [mode1Without, mode2Without, mode3Without, mode4Without, mode5Without, mode6Without];
const withSeries = [mode1With, mode2With, mode3With, mode4With, mode5With, mode6With];
const yTickSets = [
  [3.7, 3.8, 3.9, 4.0, 4.1, 4.2, 4.3, 4.4],
  [5.5, 5.6, 5.7, 5.8, 5.9, 6.0, 6.1, 6.2],
  [6.6, 6.7, 6.8, 6.9, 7.0, 7.1, 7.2, 7.3],
  [9.8, 9.9, 10.0, 10.1, 10.2, 10.3, 10.4, 10.5],
  [12.1, 12.2, 12.3, 12.4, 12.5, 12.6, 12.7, 12.8],
  [15.0, 15.1, 15.2, 15.3, 15.4, 15.5, 15.6, 15.7],
];
const yDomains: [number, number][] = [
  [3.612, 4.422],
  [5.455, 6.26],
  [6.596, 7.389],
  [9.7, 10.506],
  [12.036, 12.839],
  [14.915, 15.717],
];
const legendLabels = ["Without Thermal Loads", "With Thermal Loads"];

// ---------- styles ----------
const withColors = ["#ff0000", "#000080", "#008000", "#000000", "#008080", "#800080"];
const withoutColor = "#808080";
const FONT = "DejaVu Sans, sans-serif";
const SY = 1.1;
const colX = [47, 321];
const rowY = [19.8, 272.8, 526.5];
const W = 216;
const H = 207.8;

function T(props: {
  x: number;
  y: number;
  size: number;
  anchor?: string;
  rotate?: boolean;
  children: React.ReactNode;
}) {
  const { x, y, size, anchor = "start", rotate = false, children } = props;
  return (
    <text
      transform={`translate(${x},${y}) scale(1,${SY})${rotate ? " rotate(-90)" : ""}`}
      fontSize={size}
      fontFamily={FONT}
      textAnchor={anchor}
      fill="#000"
    >
      {children}
    </text>
  );
}

function Panel({ idx }: { idx: number }) {
  const col = idx % 2;
  const row = Math.floor(idx / 2);
  const x0 = colX[col];
  const y0 = rowY[row];
  const x = d3.scaleLinear().domain([0, 375]).range([x0, x0 + W]);
  const y = d3.scaleLinear().domain(yDomains[idx]).range([y0 + H, y0]);
  const fmt = d3.format(".1f");
  const ticks = yTickSets[idx];
  const maxChars = d3.max(ticks, (t) => fmt(t).length) as number;
  const ylabOffset = maxChars > 3 ? 33 : 27;
  const color = withColors[idx];
  const clipId = `clip${idx}`;
  const lx = x0 + W - 4 - 148;
  const ly = y0 + H - 6 - 31;

  return (
    <g>
      <defs>
        <clipPath id={clipId}>
          <rect x={x0} y={y0} width={W} height={H} />
        </clipPath>
      </defs>
      {xTicks.map((t) => (
        <line key={"gx" + t} x1={x(t)} x2={x(t)} y1={y0} y2={y0 + H} stroke="#b0b0b0" strokeWidth={0.8} />
      ))}
      {ticks.map((t) => (
        <line key={"gy" + t} x1={x0} x2={x0 + W} y1={y(t)} y2={y(t)} stroke="#b0b0b0" strokeWidth={0.8} />
      ))}
      <g clipPath={`url(#${clipId})`}>
        {withoutSeries[idx].map((v, i) => (
          <circle key={"a" + i} cx={x(iterations[i])} cy={y(v)} r={1.45} fill={withoutColor} />
        ))}
        {withSeries[idx].map((v, i) => (
          <circle key={"b" + i} cx={x(iterations[i])} cy={y(v)} r={1.7} fill={color} />
        ))}
      </g>
      <rect x={x0} y={y0} width={W} height={H} fill="none" stroke="#000" strokeWidth={0.8} />
      {xTicks.map((t) => (
        <g key={"tx" + t}>
          <line x1={x(t)} x2={x(t)} y1={y0 + H} y2={y0 + H + 3.5} stroke="#000" strokeWidth={0.8} />
          <T x={x(t)} y={y0 + H + 12} size={9.8} anchor="middle">
            {t}
          </T>
        </g>
      ))}
      {ticks.map((t) => (
        <g key={"ty" + t}>
          <line x1={x0 - 3.5} x2={x0} y1={y(t)} y2={y(t)} stroke="#000" strokeWidth={0.8} />
          <T x={x0 - 5.5} y={y(t) + 3.9} size={9.8} anchor="end">
            {fmt(t)}
          </T>
        </g>
      ))}
      <T x={x0 + W / 2} y={y0 - 3} size={12.7} anchor="middle">
        {modeTitles[idx]}
      </T>
      <T x={x0 + W / 2} y={y0 + H + 25.5} size={11.5} anchor="middle">
        Model Iteration
      </T>
      <T x={x0 - ylabOffset} y={y0 + H / 2} size={10} anchor="middle" rotate>
        Frequency (Hz)
      </T>
      <rect x={lx} y={ly} width={148} height={31} rx={2} fill="#fff" fillOpacity={0.8} stroke="#cccccc" strokeWidth={0.8} />
      <circle cx={lx + 13} cy={ly + 8.3} r={1.4} fill={withoutColor} />
      <rect x={lx + 11.4} y={ly + 20} width={3.2} height={3.2} fill={color} />
      <T x={lx + 31} y={ly + 8.3 + 3.6} size={9.5}>
        {legendLabels[0]}
      </T>
      <T x={lx + 31} y={ly + 21.6 + 3.6} size={9.5}>
        {legendLabels[1]}
      </T>
    </g>
  );
}

export default function App() {
  return (
    <svg
      width={550}
      height={762}
      viewBox="0 0 550 762"
      style={{ position: "absolute", left: 0, top: 0, background: "#fff" }}
    >
      <rect x={0} y={0} width={550} height={762} fill="#fff" />
      {modeTitles.map((_, i) => (
        <Panel key={i} idx={i} />
      ))}
    </svg>
  );
}
